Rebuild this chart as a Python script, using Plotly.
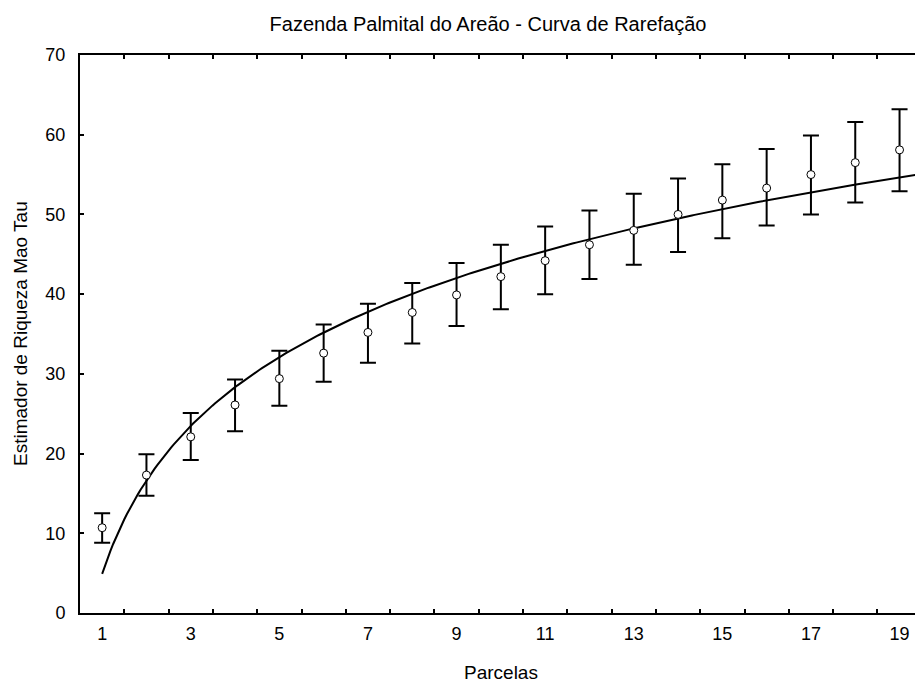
import numpy as np
import plotly.graph_objects as go

# ---- data ----
parcelas = list(range(1, 20))
mao_tau = [10.7, 17.3, 22.1, 26.1, 29.4, 32.6, 35.2, 37.7, 39.9, 42.2,
           44.2, 46.2, 48.0, 50.0, 51.8, 53.3, 55.0, 56.5, 58.1]
upper = [12.5, 19.9, 25.1, 29.3, 32.9, 36.2, 38.8, 41.4, 43.9, 46.2,
         48.5, 50.5, 52.6, 54.5, 56.3, 58.2, 59.9, 61.6, 63.2]
lower = [8.8, 14.7, 19.2, 22.8, 26.0, 29.0, 31.4, 33.8, 36.0, 38.1,
         40.0, 41.9, 43.7, 45.3, 47.0, 48.6, 50.0, 51.5, 52.9]
# logarithmic fit shown in the chart: y = a + b*ln(x)
fit_a = 4.9
fit_b = 16.9
x_tick_labels = [str(v) for v in range(1, 20, 2)]
y_ticks = list(range(0, 71, 10))

FONT = "Liberation Sans, Arial, sans-serif"

err_plus = [u - m for u, m in zip(upper, mao_tau)]
err_minus = [m - l for m, l in zip(mao_tau, lower)]

xfit = np.linspace(1, 19.6, 300)
yfit = fit_a + fit_b * np.log(xfit)

fig = go.Figure()
fig.add_trace(go.Scatter(x=xfit, y=yfit, mode="lines",
                         line=dict(color="black", width=2),
                         hoverinfo="skip", showlegend=False))
fig.add_trace(go.Scatter(
    x=parcelas, y=mao_tau, mode="markers",
    marker=dict(symbol="circle", size=8, color="white",
                line=dict(color="black", width=1)),
    error_y=dict(type="data", symmetric=False, array=err_plus,
                 arrayminus=err_minus, color="black", thickness=2, width=8),
    showlegend=False))

xr = [0.5, 0.5 + (915 - 80) / 44.3]

fig.update_layout(
    width=915, height=684,
    margin=dict(l=80, r=0, t=55, b=71, pad=0),
    paper_bgcolor="white", plot_bgcolor="white",
    font=dict(family=FONT, color="black", size=18),
    title=dict(text="Fazenda Palmital do Areão - Curva de Rarefação",
               x=488 / 915, xref="container", xanchor="center",
               y=1 - 24 / 684, yref="container", yanchor="middle",
               font=dict(family=FONT, size=20, color="black")),
    xaxis=dict(range=xr, tickvals=[v + 0.5 for v in range(1, 19)],
               showticklabels=False, ticks="inside", ticklen=4,
               tickwidth=1.5, tickcolor="black",
               showline=True, linecolor="black", linewidth=2,
               mirror="ticks", showgrid=False, zeroline=False),
    xaxis2=dict(range=xr, overlaying="x", side="bottom",
                tickvals=list(range(1, 20, 2)), ticktext=x_tick_labels,
                ticks="", showline=False, showgrid=False, zeroline=False,
                ticklabelstandoff=8,
                tickfont=dict(family=FONT, size=18, color="black")),
    yaxis=dict(range=[0, 70], tickvals=y_ticks, ticks="inside", ticklen=4,
               tickwidth=1.5, tickcolor="black",
               showline=True, linecolor="black", linewidth=2,
               showgrid=False, zeroline=False, ticklabelstandoff=9,
               tickfont=dict(family=FONT, size=18, color="black")),
    annotations=[
        dict(text="Parcelas", xref="paper", yref="paper",
             x=(501 - 80) / 835, y=-(672 - 613) / 558,
             xanchor="center", yanchor="middle", showarrow=False,
             font=dict(family=FONT, size=19, color="black")),
        dict(text="Estimador de Riqueza Mao Tau", xref="paper", yref="paper",
             x=(20 - 80) / 835, y=0.5, textangle=-90,
             xanchor="center", yanchor="middle", showarrow=False,
             font=dict(family=FONT, size=19, color="black")),
    ],
)
# dummy trace to activate xaxis2 tick labels
fig.add_trace(go.Scatter(x=[1], y=[None], xaxis="x2", mode="markers",
                         showlegend=False, hoverinfo="skip"))

fig.write_html("out.html")
